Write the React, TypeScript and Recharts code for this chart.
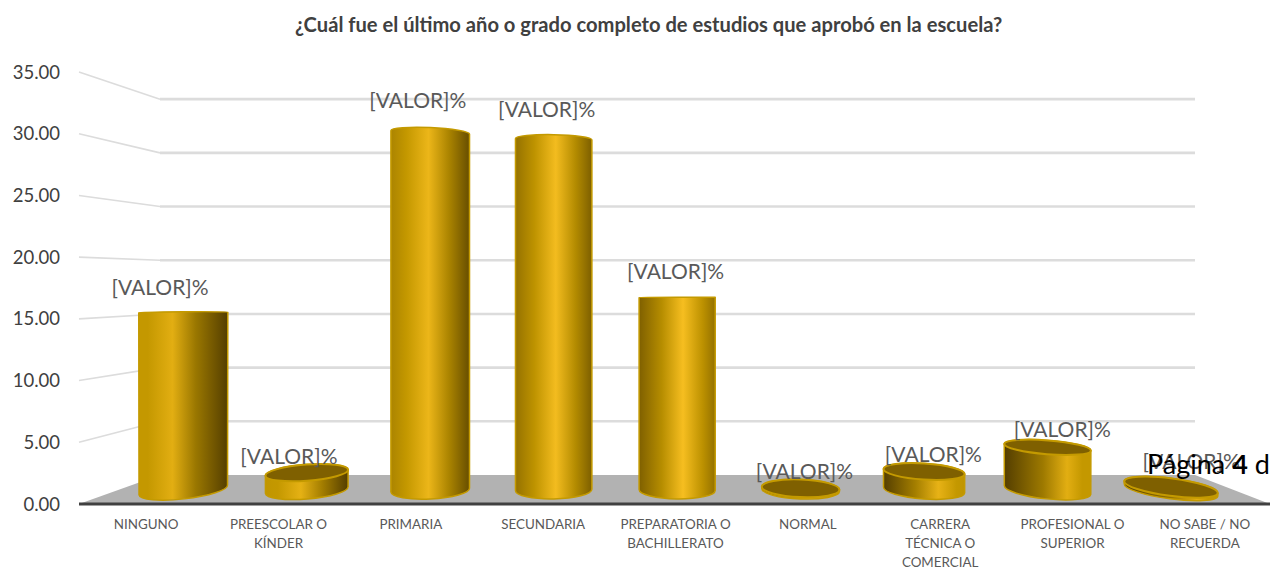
import { BarChart, Bar, XAxis, YAxis, CartesianGrid, LabelList } from "recharts";

const categories = [
  "NINGUNO",
  "PREESCOLAR O KÍNDER",
  "PRIMARIA",
  "SECUNDARIA",
  "PREPARATORIA O BACHILLERATO",
  "NORMAL",
  "CARRERA TÉCNICA O COMERCIAL",
  "PROFESIONAL O SUPERIOR",
  "NO SABE / NO RECUERDA",
];
const percentages = [15.4, 1.5, 31.0, 30.4, 16.7, 0.15, 1.6, 3.7, 0.25];
const yTicks = [0, 5, 10, 15, 20, 25, 30, 35];

const TITLE = "¿Cuál fue el último año o grado completo de estudios que aprobó en la escuela?";
const LABEL_TEXT = "[VALOR]%";
const FONT = "Lato, sans-serif";

// the labels don't follow the bars exactly in the original
const LABEL_NUDGE = [2, 0, 8, 9, 2, -2, -1, 0, -11];

const data = categories.map((name, i) => ({ name, value: percentages[i] }));

// fake 3D: the axes are the front of the box, walls and bars sit further back
const FRONT_Y = 504;
const BACK_Y = 475;
const WALL_SCALE = 0.87;
const LEFT_X = 79;
const BACK_LEFT = 160;
const BACK_RIGHT = 1195;
const MID_Y = 490;
const MID_SCALE = 0.935;
const EYE_Y = 300;
const CENTER_X = 635;

function mix(a: number[], b: number[], k: number) {
  const t = Math.max(0, Math.min(1, k));
  const c = a.map((v, i) => Math.round(v + (b[i] - v) * t));
  return `rgb(${c[0]},${c[1]},${c[2]})`;
}

const GOLD = [196, 152, 0];
const DARK = [84, 62, 0];
const BRIGHT = [248, 192, 34];
const DIM = [226, 174, 18];

function wrapLabel(text: string, max = 14) {
  const lines: string[] = [];
  let cur = "";
  text.split(" ").forEach((w) => {
    const next = cur ? cur + " " + w : w;
    if (next.length > max) {
      lines.push(cur);
      cur = w;
    } else cur = next;
  });
  lines.push(cur);
  return lines;
}

function WallLine(props: any) {
  const y = props.y1;
  const backY = BACK_Y + (y - FRONT_Y) * WALL_SCALE;
  if (Math.abs(y - FRONT_Y) < 1) {
    return (
      <polygon
        points={`${LEFT_X},${FRONT_Y} ${BACK_LEFT},${BACK_Y} ${BACK_RIGHT},${BACK_Y} 1270,${FRONT_Y}`}
        fill="#b2b2b2"
      />
    );
  }
  return (
    <g fill="none" stroke="#dcdcdc">
      <line x1={LEFT_X} y1={y} x2={BACK_LEFT} y2={backY} strokeWidth={1.6} />
      <line x1={BACK_LEFT} y1={backY} x2={BACK_RIGHT} y2={backY} strokeWidth={2.6} />
    </g>
  );
}

function Cylinder(props: any) {
  const { x, y, width, index } = props;
  const bandX = x + width / 2;
  const cx = 183.5 + (bandX - 145.2) * 0.933;
  const t = (cx - CENTER_X) / 500;
  const rx = 38 + 8 * t * t;
  const topY = MID_Y - (FRONT_Y - y) * MID_SCALE;
  const angle = (yy: number) => 0.037 * t * (yy - EYE_Y);
  const ryOf = (yy: number) => 0.047 * Math.abs(yy - EYE_Y) * (yy < EYE_Y ? 0.6 : 1);

  const ends = (yy: number) => {
    const a = (angle(yy) * Math.PI) / 180;
    return {
      l: [cx - rx * Math.cos(a), yy - rx * Math.sin(a)],
      r: [cx + rx * Math.cos(a), yy + rx * Math.sin(a)],
    };
  };
  const top = ends(topY);
  const bot = ends(MID_Y);
  const body =
    `M${top.l[0]},${top.l[1]} L${bot.l[0]},${bot.l[1]} ` +
    `A${rx},${ryOf(MID_Y)} ${angle(MID_Y)} 0 0 ${bot.r[0]},${bot.r[1]} ` +
    `L${top.r[0]},${top.r[1]} ` +
    `A${rx},${ryOf(topY)} ${angle(topY)} 0 0 ${top.l[0]},${top.l[1]} Z`;

  const id = `cyl-${index}`;
  const highlight = 0.56 + 0.2 * t;
  const side = Math.abs(t);
  return (
    <g>
      <defs>
        <linearGradient id={id} x1="0" x2="1" y1="0" y2="0">
          <stop offset="0" stopColor={mix(GOLD, DARK, 0.55 + 0.8 * t)} />
          <stop offset={Math.max(0.1, highlight - 0.28)} stopColor={mix(GOLD, DARK, 0.1 + 0.3 * t)} />
          <stop offset={highlight} stopColor={mix(BRIGHT, DIM, side * 1.3)} />
          <stop offset={Math.min(0.9, highlight + 0.26)} stopColor={mix(GOLD, DARK, 0.1 - 0.3 * t)} />
          <stop offset="1" stopColor={mix(GOLD, DARK, 0.5 - 0.8 * t)} />
        </linearGradient>
      </defs>
      <path d={body} fill={`url(#${id})`} stroke="#c49a00" strokeWidth={1.5} />
      {topY > EYE_Y + 20 && (
        <ellipse
          cx={cx}
          cy={topY}
          rx={rx}
          ry={ryOf(topY)}
          transform={`rotate(${angle(topY)} ${cx} ${topY})`}
          fill="#7f6000"
          stroke="#c49a00"
          strokeWidth={2}
        />
      )}
    </g>
  );
}

function ValueLabel(props: any) {
  const { x, y, width, index } = props;
  const bandX = x + width / 2;
  return (
    <text
      x={161 + (bandX - 146) * 0.974}
      y={y - 28 + LABEL_NUDGE[index]}
      dy={7}
      textAnchor="middle"
      fontFamily={FONT}
      fontSize={21}
      fill="#595959"
    >
      {LABEL_TEXT}
    </text>
  );
}

function CategoryTick(props: any) {
  const { x, payload } = props;
  return (
    <text textAnchor="middle" fontFamily={FONT} fontSize={13.4} fill="#595959">
      {wrapLabel(payload.value).map((line, i) => (
        <tspan key={i} x={x + 1} y={528.5 + i * 19}>
          {line}
        </tspan>
      ))}
    </text>
  );
}

export default function App() {
  return (
    <div style={{ position: "absolute", left: 0, top: 0, width: 1270, height: 569, overflow: "hidden", background: "#fff" }}>
      <div
        style={{
          position: "absolute",
          top: 12,
          left: 295,
          whiteSpace: "nowrap",
          fontFamily: FONT,
          fontWeight: 700,
          fontSize: 20.15,
          color: "#404040",
        }}
      >
        {TITLE}
      </div>
      <BarChart width={1270} height={569} data={data} margin={{ top: 72, right: 0, bottom: 35, left: 0 }} barCategoryGap="20%">
        <CartesianGrid vertical={false} horizontal={(p: any) => <WallLine key={p.key} {...p} />} />
        <XAxis
          dataKey="name"
          interval={0}
          height={30}
          tick={<CategoryTick />}
          tickLine={false}
          axisLine={{ stroke: "#404040", strokeWidth: 3 }}
        />
        <YAxis
          width={79}
          domain={[0, 35]}
          ticks={yTicks}
          interval={0}
          tickLine={false}
          axisLine={false}
          tickMargin={13}
          tickFormatter={(v: number) => v.toFixed(2)}
          tick={{ fontFamily: FONT, fontSize: 18.5, fill: "#404040" }}
        />
        <Bar dataKey="value" shape={<Cylinder />} isAnimationActive={false}>
          <LabelList dataKey="value" content={<ValueLabel />} />
        </Bar>
      </BarChart>
      <div
        style={{
          position: "absolute",
          left: 1147,
          top: 447,
          whiteSpace: "nowrap",
          fontFamily: FONT,
          fontSize: 27,
          color: "#000",
        }}
      >
        Página <b>4</b> d
      </div>
    </div>
  );
}
